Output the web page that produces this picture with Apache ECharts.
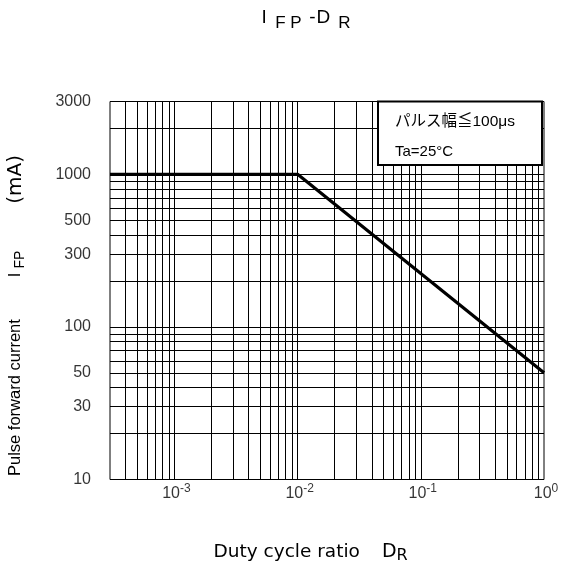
<!DOCTYPE html>
<html><head><meta charset="utf-8">
<script src="https://cdn.jsdelivr.net/npm/echarts@6/dist/echarts.min.js"></script>
<style>html,body{margin:0;padding:0;background:#fff}#c{width:561px;height:569px}</style>
</head><body><div id="c"></div>
<script>
// ---- data ----
const dutyRatio = [0.0003, 0.01, 1];
const pulseCurrent = [1000, 1000, 50];
const xTickValues = [0.001, 0.01, 0.1, 1];
const xTickExponents = ['-3', '-2', '-1', '0'];
const yTickValues = [3000, 1000, 500, 300, 100, 50, 30, 10];
const xGridValues = [0.0004, 0.0005, 0.0006, 0.0007, 0.0008, 0.0009,
  0.001, 0.002, 0.003, 0.004, 0.005, 0.006, 0.007, 0.008, 0.009,
  0.01, 0.02, 0.03, 0.04, 0.05, 0.06, 0.07, 0.08, 0.09,
  0.1, 0.2, 0.3, 0.4, 0.5, 0.6, 0.7, 0.8, 0.9];
const yGridValues = [20, 30, 40, 50, 60, 70, 80, 90, 100,
  200, 300, 400, 500, 600, 700, 800, 900, 1000, 2000];
const xRange = [0.0003, 1];
const yRange = [10, 3000];

const FONT = '"Liberation Sans", Arial, sans-serif';
const WIDE = '"DejaVu Sans", sans-serif';
const chart = echarts.init(document.getElementById('c'), null, {renderer: 'canvas'});

const gridLines = xGridValues.map(v => ({xAxis: v})).concat(yGridValues.map(v => ({yAxis: v})));

function tok(fontFamily, fontSize, padding) {
  return {fontFamily: fontFamily, fontSize: fontSize, fontWeight: 'normal', color: '#000', lineHeight: 24, padding: padding};
}

chart.setOption({
  animation: false,
  backgroundColor: '#fff',
  title: {
    left: 261.5, top: 6, padding: 0,
    text: '{m|I}{f|F}{p|P}{h|-}{d|D}{r|R}',
    textStyle: {
      fontWeight: 'normal',
      rich: {
        m: tok(FONT, 19, [0, 0, 0, 0]),
        f: tok(FONT, 17, [10, 0, 0, 8.5]),
        p: tok(FONT, 17, [10, 0, 0, 4.7]),
        h: tok(FONT, 19, [0, 0, 0, 7.5]),
        d: tok(FONT, 19, [0, 0, 0, 1]),
        r: tok(FONT, 17, [10, 0, 0, 8])
      }
    }
  },
  grid: {left: 110, right: 17, top: 101.5, bottom: 89.5, show: true, borderColor: '#000', borderWidth: 1, backgroundColor: 'transparent', outerBoundsMode: 'none'},
  xAxis: {
    type: 'log', logBase: 10, min: xRange[0], max: xRange[1],
    axisLine: {show: false}, axisTick: {show: false}, axisLabel: {show: false},
    splitLine: {show: false}, minorSplitLine: {show: false}
  },
  yAxis: {
    type: 'log', logBase: 10, min: yRange[0], max: yRange[1],
    axisLine: {show: false}, axisTick: {show: false}, axisLabel: {show: false},
    splitLine: {show: false}, minorSplitLine: {show: false}
  },
  series: [
    {
      type: 'line', name: 'IFP', z: 5,
      data: dutyRatio.map((d, i) => [d, pulseCurrent[i]]),
      symbol: 'none', silent: true,
      lineStyle: {color: '#000', width: 3.2},
      markLine: {
        silent: true, z: 1, symbol: ['none', 'none'], animation: false, precision: 10,
        label: {show: false},
        lineStyle: {color: '#000', width: 1, type: 'solid'},
        emphasis: {disabled: true},
        data: gridLines
      }
    },
    {
      type: 'scatter', name: 'yTicks', symbolSize: 0, clip: false, silent: true, z: 6,
      data: yTickValues.map(v => [xRange[0], v]),
      label: {show: true, position: 'left', distance: 19, color: '#000', fontFamily: FONT, fontSize: 16,
        formatter: p => String(p.value[1])}
    },
    {
      type: 'scatter', name: 'xTicks', symbolSize: 0, clip: false, silent: true, z: 6,
      data: xTickValues.map(v => [v, yRange[0]]),
      label: {show: true, position: 'bottom', distance: 4.5, color: '#000',
        formatter: p => '{b|10}{s|' + xTickExponents[p.dataIndex] + '}',
        rich: {
          b: {fontFamily: FONT, fontSize: 16, color: '#000', lineHeight: 20, padding: [0, 0, 0, 4]},
          s: {fontFamily: FONT, fontSize: 12, color: '#000', lineHeight: 20, padding: [0, 0, 11, 0]}
        }}
    }
  ],
  graphic: [
    {
      type: 'rect', z: 20, silent: true,
      shape: {x: 378, y: 101.5, width: 164, height: 63.5},
      style: {fill: '#fff', stroke: '#000', lineWidth: 2}
    },
    {
      type: 'text', z: 21, silent: true, x: 395, y: 121.5,
      style: {text: 'パルス幅≦100μs', fill: '#000', font: '15.5px "Liberation Sans", "Noto Sans CJK JP", sans-serif', textAlign: 'left', textVerticalAlign: 'middle'}
    },
    {
      type: 'text', z: 21, silent: true, x: 395, y: 151.5,
      style: {text: 'Ta=25°C', fill: '#000', font: '15px "Liberation Sans", sans-serif', textAlign: 'left', textVerticalAlign: 'middle'}
    },
    {
      type: 'text', z: 21, silent: true, x: 213.5, y: 552,
      style: {
        text: '{a|Duty cycle ratio}{d|D}{r|R}',
        textAlign: 'left', textVerticalAlign: 'middle',
        rich: {
          a: {fontFamily: WIDE, fontSize: 18.5, fill: '#000', lineHeight: 22},
          d: {fontFamily: WIDE, fontSize: 19, fill: '#000', lineHeight: 22, padding: [0, 0, 0, 22]},
          r: {fontFamily: WIDE, fontSize: 16, fill: '#000', lineHeight: 22, padding: [8, 0, 0, 0]}
        }
      }
    },
    {
      type: 'text', z: 21, silent: true, x: 15.7, y: 476, rotation: Math.PI / 2,
      style: {
        text: '{a|Pulse forward current}{i|I}{f|FP}{m|(mA)}',
        textAlign: 'left', textVerticalAlign: 'middle',
        rich: {
          a: {fontFamily: FONT, fontSize: 16.5, fill: '#000', lineHeight: 22},
          i: {fontFamily: FONT, fontSize: 16.5, fill: '#000', lineHeight: 22, padding: [0, 0, 0, 42]},
          f: {fontFamily: FONT, fontSize: 14, fill: '#000', lineHeight: 22, padding: [8, 0, 0, 4]},
          m: {fontFamily: WIDE, fontSize: 20, fill: '#000', lineHeight: 22, padding: [0, 0, 0, 47]}
        }
      }
    }
  ]
});
</script></body></html>
